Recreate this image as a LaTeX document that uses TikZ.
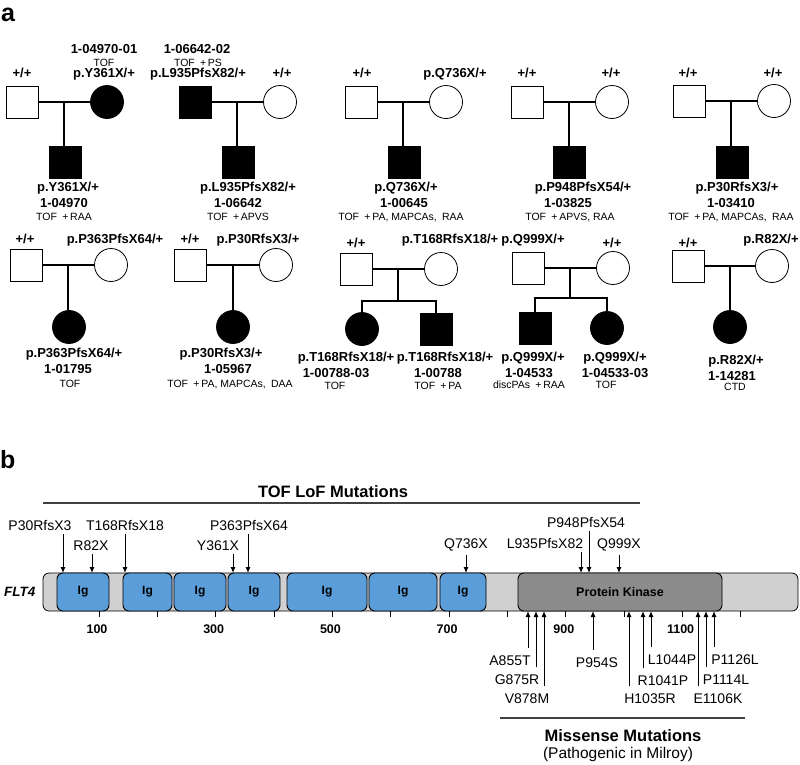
\documentclass[tikz,border=0pt]{standalone}
\usepackage{fontspec}
\setmainfont{Liberation Sans}
\usetikzlibrary{arrows.meta,positioning}
\definecolor{igblue}{RGB}{91,157,217}
\definecolor{bargray}{RGB}{208,208,208}
\definecolor{pkgray}{RGB}{140,140,140}

\begin{document}
\begin{tikzpicture}[x=1pt,y=-1pt,>={Latex[length=6pt,width=5pt]},
    male/.style={rectangle,draw,line width=0.8pt,minimum size=32pt,inner sep=0pt},
    female/.style={circle,draw,line width=0.8pt,minimum size=33pt,inner sep=0pt},
    aff/.style={fill=black},
    link/.style={line width=1.6pt},
    gt/.style={anchor=base,inner sep=0pt,font=\fontsize{13}{13}\selectfont\bfseries},
    dx/.style={anchor=base,inner sep=0pt,font=\fontsize{10.5}{10.5}\selectfont},
    panel/.style={anchor=base west,inner sep=0pt,font=\fontsize{25}{25}\selectfont\bfseries},
    bar/.style={draw,line width=0.8pt,fill=bargray,rounded corners=6pt,minimum height=38pt},
    ig/.style={draw,line width=0.9pt,fill=igblue,rounded corners=6pt,minimum height=38pt,
      inner sep=0pt,font=\fontsize{12}{12}\selectfont\bfseries},
    pk/.style={draw,line width=0.9pt,fill=pkgray,rounded corners=6pt,minimum height=38pt,
      inner sep=0pt,font=\fontsize{12.5}{12.5}\selectfont\bfseries},
    mut/.style={anchor=base,inner sep=0pt,font=\fontsize{14}{14}\selectfont},
    mutarrow/.style={->,line width=1pt},
    num/.style={anchor=base,inner sep=0pt,font=\fontsize{12.5}{12.5}\selectfont\bfseries},
    head/.style={anchor=base,inner sep=0pt,font=\fontsize{16.5}{16.5}\selectfont\bfseries},
    rule/.style={line width=1.2pt,draw=black!75}]

  \useasboundingbox (0,0) rectangle (800,764);

  % ---- a: pedigrees
  \node[panel] (pa) at (1,21) {a};

  % 1-04970
  \node[male] (f1) at (22,102) {};
  \node[female,aff] (m1) at (107,102) {};
  \node[male,aff] (c1) at (65,162) {};
  \draw[link] (f1) -- coordinate (j1) (m1);
  \draw[link] (j1) -- (j1 |- c1.north);
  \node[gt] (f1g) at (22,77) {+/+};
  \node[gt] (m1g) at (104,77) {p.Y361X/+};
  \node[dx] (m1dx) at (104,66) {TOF};
  \node[gt] (m1id) at (104,53) {1-04970-01};
  \node[gt] (c1g) at (68,191) {p.Y361X/+};
  \node[gt] (c1id) at (64,207) {1-04970};
  \node[dx] (c1dx) at (64,220) {TOF\enspace+\,RAA};

  % 1-06642
  \node[male,aff] (f2) at (195,102) {};
  \node[female] (m2) at (280,102) {};
  \node[male,aff] (c2) at (238,162) {};
  \draw[link] (f2) -- coordinate (j2) (m2);
  \draw[link] (j2) -- (j2 |- c2.north);
  \node[gt] (f2g) at (198,77) {p.L935PfsX82/+};
  \node[dx] (f2dx) at (198,66) {TOF\enspace+\,PS};
  \node[gt] (f2id) at (197,53) {1-06642-02};
  \node[gt] (m2g) at (282,77) {+/+};
  \node[gt] (c2g) at (248,191) {p.L935PfsX82/+};
  \node[gt] (c2id) at (238,207) {1-06642};
  \node[dx] (c2dx) at (238,220) {TOF\enspace+\,APVS};

  % 1-00645
  \node[male] (f3) at (361,102) {};
  \node[female] (m3) at (446,102) {};
  \node[male,aff] (c3) at (404,162) {};
  \draw[link] (f3) -- coordinate (j3) (m3);
  \draw[link] (j3) -- (j3 |- c3.north);
  \node[gt] (f3g) at (362,77) {+/+};
  \node[gt] (m3g) at (455,77) {p.Q736X/+};
  \node[gt] (c3g) at (406,191) {p.Q736X/+};
  \node[gt] (c3id) at (404,207) {1-00645};
  \node[dx] (c3dx) at (401,220) {TOF\enspace+\,PA, MAPCAs,\enspace RAA};

  % 1-03825
  \node[male] (f4) at (527,102) {};
  \node[female] (m4) at (612,102) {};
  \node[male,aff] (c4) at (569,162) {};
  \draw[link] (f4) -- coordinate (j4) (m4);
  \draw[link] (j4) -- (j4 |- c4.north);
  \node[gt] (f4g) at (527,77) {+/+};
  \node[gt] (m4g) at (611,77) {+/+};
  \node[gt] (c4g) at (583,191) {p.P948PfsX54/+};
  \node[gt] (c4id) at (568,207) {1-03825};
  \node[dx] (c4dx) at (570,220) {TOF\enspace+\,APVS, RAA};

  % 1-03410
  \node[male] (f5) at (689,101) {};
  \node[female] (m5) at (774,101) {};
  \node[male,aff] (c5) at (732,162) {};
  \draw[link] (f5) -- coordinate (j5) (m5);
  \draw[link] (j5) -- (j5 |- c5.north);
  \node[gt] (f5g) at (688,77) {+/+};
  \node[gt] (m5g) at (773,77) {+/+};
  \node[gt] (c5g) at (737,191) {p.P30RfsX3/+};
  \node[gt] (c5id) at (731,207) {1-03410};
  \node[dx] (c5dx) at (731,220) {TOF\enspace+\,PA, MAPCAs,\enspace RAA};

  % 1-01795
  \node[male] (f6) at (26,265) {};
  \node[female] (m6) at (111,265) {};
  \node[female,aff] (c6) at (69,327) {};
  \draw[link] (f6) -- coordinate (j6) (m6);
  \draw[link] (j6) -- (j6 |- c6.north);
  \node[gt] (f6g) at (25,243) {+/+};
  \node[gt] (m6g) at (115,243) {p.P363PfsX64/+};
  \node[gt] (c6g) at (74,357) {p.P363PfsX64/+};
  \node[gt] (c6id) at (68,373) {1-01795};
  \node[dx] (c6dx) at (70,387) {TOF};

  % 1-05967
  \node[male] (f7) at (190,265) {};
  \node[female] (m7) at (276,265) {};
  \node[female,aff] (c7) at (233,327) {};
  \draw[link] (f7) -- coordinate (j7) (m7);
  \draw[link] (j7) -- (j7 |- c7.north);
  \node[gt] (f7g) at (190,243) {+/+};
  \node[gt] (m7g) at (258,243) {p.P30RfsX3/+};
  \node[gt] (c7g) at (221,357) {p.P30RfsX3/+};
  \node[gt] (c7id) at (228,373) {1-05967};
  \node[dx] (c7dx) at (230,387) {TOF\enspace+\,PA, MAPCAs,\enspace DAA};

  % 1-00788
  \node[male] (f8) at (356,269) {};
  \node[female] (m8) at (441,269) {};
  \node[female,aff] (d8a) at (362,329) {};
  \node[male,aff] (d8b) at (436,329) {};
  \draw[link] (f8) -- coordinate (j8) (m8);
  \path (j8) ++(0,32) coordinate (s8);
  \draw[link] (j8) -- (s8);
  \draw[link] (d8a) |- (s8) -| (d8b);
  \node[gt] (f8g) at (356,247) {+/+};
  \node[gt] (m8g) at (450,243) {p.T168RfsX18/+};
  \node[gt] (d8ag) at (346,361) {p.T168RfsX18/+};
  \node[gt] (d8aid) at (336,377) {1-00788-03};
  \node[dx] (d8adx) at (335,389) {TOF};
  \node[gt] (d8bg) at (445,361) {p.T168RfsX18/+};
  \node[gt] (d8bid) at (438,377) {1-00788};
  \node[dx] (d8bdx) at (438,389) {TOF\enspace+\,PA};

  % 1-04533
  \node[male] (f9) at (528,268) {};
  \node[female] (m9) at (613,268) {};
  \node[male,aff] (d9a) at (535,328) {};
  \node[female,aff] (d9b) at (607,328) {};
  \draw[link] (f9) -- coordinate (j9) (m9);
  \path (j9) ++(0,30) coordinate (s9);
  \draw[link] (j9) -- (s9);
  \draw[link] (d9a) |- (s9) -| (d9b);
  \node[gt] (f9g) at (533,243) {p.Q999X/+};
  \node[gt] (m9g) at (612,247) {+/+};
  \node[gt] (d9ag) at (533,361) {p.Q999X/+};
  \node[gt] (d9aid) at (529,377) {1-04533};
  \node[dx] (d9adx) at (529,388) {discPAs\enspace+\,RAA};
  \node[gt] (d9bg) at (615,361) {p.Q999X/+};
  \node[gt] (d9bid) at (615,377) {1-04533-03};
  \node[dx] (d9bdx) at (606,388) {TOF};

  % 1-14281
  \node[male] (f10) at (688,266) {};
  \node[female] (m10) at (772,266) {};
  \node[female,aff] (c10) at (730,327) {};
  \draw[link] (f10) -- coordinate (j10) (m10);
  \draw[link] (j10) -- (j10 |- c10.north);
  \node[gt] (f10g) at (688,247) {+/+};
  \node[gt] (m10g) at (771,243) {p.R82X/+};
  \node[dx] (c10dx) at (735,390) {CTD};
  \node[gt] (c10g) at (736,364) {p.R82X/+};
  \node[gt] (c10id) at (732,380) {1-14281};

  % ---- b: FLT4 protein
  \node[panel] (pb) at (0,468) {b};

  \draw[rule] (43,503) -- (640,503);
  \node[head] (tof) at (333,497) {TOF LoF Mutations};

  \node[bar,minimum width=755pt] (flt) at (420.5,592) {};
  \node[left=7pt of flt,inner sep=0pt,font=\fontsize{13.5}{13.5}\selectfont\bfseries\itshape] (gene) {FLT4};
  \foreach \cx/\w [count=\i] in {83/52,147.5/49,200/52,254/52,327/80,403/68,463/46}
    \node[ig,minimum width=\w pt] (ig\i) at (\cx,592) {Ig};
  \node[pk,minimum width=204pt] (pk) at (620,592) {Protein Kinase};

  % axis
  \foreach \t in {100,200,...,1200}
    \draw[line width=1pt] ({40.64+0.5836*\t},611) -- ++(0,6);
  \foreach \t in {100,300,...,1100}
    \node[num] (n\t) at ({38.64+0.5836*\t},633) {\t};

  % truncating variants
  \foreach \m/\x/\lx/\ly in {P30RfsX3/63/40/530, R82X/92/91/550, T168RfsX18/125/125/530,
      Y361X/233/218/550, P363PfsX64/248/249/530, Q736X/466/466/548,
      L935PfsX82/581/545/548, P948PfsX54/589/586/527, Q999X/619/619/548}{
    \coordinate (c\m) at (\x,573);
    \node[mut] (t\m) at (\lx,\ly) {\m};
    \draw[mutarrow,shorten <=4pt] (t\m.south -| c\m) -- (c\m);
  }

  % missense (Milroy)
  \foreach \m/\x/\lx/\ly in {A855T/528/510/665, G875R/536/517/684, V878M/544/527/703,
      P954S/593/597/667, H1035R/629/650/703, R1041P/643/663/685, L1044P/651/672/664,
      E1106K/698/718/703, P1114L/706/726/684, P1126L/714/735/664}{
    \coordinate (c\m) at (\x,611);
    \node[mut] (b\m) at (\lx,\ly) {\m};
    \draw[mutarrow,shorten <=7pt] (b\m.north -| c\m) -- (c\m);
  }

  \draw[rule] (500,718) -- (745,718);
  \node[head] (mis) at (623,741) {Missense Mutations};
  \node[anchor=base,inner sep=0pt,font=\fontsize{15.5}{15.5}\selectfont] (pat) at (618,758) {(Pathogenic in Milroy)};
\end{tikzpicture}
\end{document}
